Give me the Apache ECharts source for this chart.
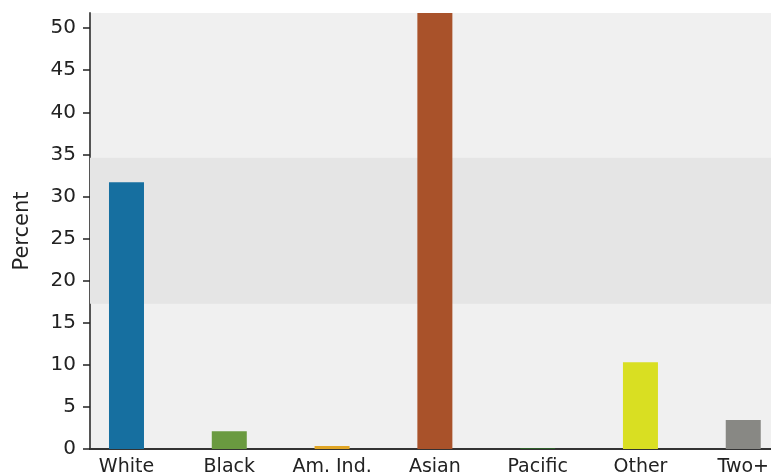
<!DOCTYPE html>
<html style="height: 100%">
<head>
    <meta charset="utf-8">
    <script src="https://cdn.jsdelivr.net/npm/echarts@6/dist/echarts.min.js"></script>
</head>
<body style="height: 100%; margin: 0; background: #fff">
    <div id="container" style="width: 771px; height: 472px"></div>
    <script type="text/javascript">
        // categories and percentages
        var categories = ['White', 'Black', 'Am. Ind.', 'Asian', 'Pacific', 'Other', 'Two+'];
        var percents = [31.7, 2.1, 0.35, 53.0, 0.12, 10.3, 3.45];
        var barColors = ['#166fa0', '#6a9a40', '#e0a524', '#a9522a', '#2e5e2a', '#d9df22', '#888884'];
        // shaded band behind the bars
        var bandLow = 17.25;
        var bandHigh = 34.6;
        var yTicks = [0, 5, 10, 15, 20, 25, 30, 35, 40, 45, 50];

        var dom = document.getElementById('container');
        var myChart = echarts.init(dom);

        var barData = categories.map(function (c, i) {
            return { value: [i, percents[i]], itemStyle: { color: barColors[i] } };
        });
        var xPos = categories.map(function (c, i) { return i; });

        var font = 'DejaVu Sans, Verdana, sans-serif';

        myChart.setOption({
            animation: false,
            grid: {
                left: 90, right: 0, top: 13, bottom: 23,
                outerBoundsMode: 'none',
                containLabel: false,
                show: true, backgroundColor: '#f0f0f0', borderWidth: 0
            },
            xAxis: {
                type: 'value',
                min: -0.355,
                max: 6.27,
                splitLine: { show: false },
                axisTick: { show: false },
                axisLine: { show: true, onZero: false, lineStyle: { color: '#333', width: 2 } },
                axisLabel: {
                    customValues: xPos,
                    formatter: function (v) { return categories[Math.round(v)]; },
                    fontFamily: font, fontSize: 19, color: '#222', margin: 9
                }
            },
            yAxis: {
                type: 'value',
                min: 0,
                max: 51.8,
                name: 'Percent',
                nameLocation: 'middle',
                nameGap: 57,
                nameTextStyle: { fontFamily: font, fontSize: 21, color: '#222' },
                splitLine: { show: false },
                axisLine: { show: true, onZero: false, lineStyle: { color: '#555', width: 2 } },
                axisTick: {
                    show: true, length: 7, customValues: yTicks,
                    lineStyle: { color: '#222', width: 1.5 }
                },
                axisLabel: {
                    customValues: yTicks,
                    fontFamily: font, fontSize: 20, color: '#222', margin: 14
                }
            },
            series: [
                {
                    type: 'line',
                    data: [],
                    z: 1,
                    silent: true,
                    markArea: {
                        silent: true,
                        itemStyle: { color: '#e5e5e5' },
                        data: [[{ yAxis: bandLow }, { yAxis: bandHigh }]]
                    }
                },
                {
                    type: 'bar',
                    z: 3,
                    barWidth: 35,
                    clip: true,
                    data: barData
                }
            ]
        });
    </script>
</body>
</html>
